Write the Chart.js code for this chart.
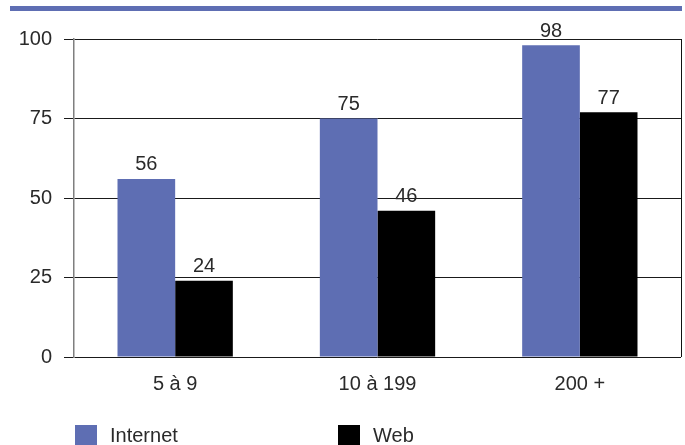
<!DOCTYPE html>
<html>
<head>
<meta charset="utf-8">
<script src="https://cdn.jsdelivr.net/npm/chart.js@4.4.1/dist/chart.umd.min.js"></script>
<style>
  html, body { margin: 0; padding: 0; background: #fff; }
  #wrap { position: relative; width: 685px; height: 445px; overflow: hidden; }
  #topbar { position: absolute; left: 10px; top: 6px; width: 672px; height: 5px; background: #5e6eb3; }
  #chartbox { position: absolute; left: 0; top: 0; width: 685px; height: 445px; }
  #legend { position: absolute; left: 75px; top: 424px; display: flex; font-family: "Liberation Sans", Arial, sans-serif; font-size: 20px; color: #2a2a2a; }
  .item { display: flex; align-items: flex-start; width: 263px; }
  .box { width: 22px; height: 20px; margin-top: 1px; margin-right: 13px; }
</style>
</head>
<body>
<div id="wrap">
  <div id="chartbox"><canvas id="c"></canvas></div>
  <div id="topbar"></div>
  <div id="legend"></div>
</div>
<script>
const categories = ["5 à 9", "10 à 199", "200 +"];
const internetValues = [56, 75, 98];
const webValues = [24, 46, 77];
const yTicks = [0, 25, 50, 75, 100];
const seriesNames = ["Internet", "Web"];
const seriesColors = ["#5e6eb3", "#000000"];

const FONT = '"Liberation Sans", Arial, sans-serif';
const TEXT = '#2a2a2a';

const valueLabels = {
  id: 'valueLabels',
  afterDatasetsDraw(chart) {
    const ctx = chart.ctx;
    ctx.save();
    ctx.font = '20px ' + FONT;
    ctx.fillStyle = TEXT;
    ctx.textAlign = 'center';
    ctx.textBaseline = 'bottom';
    chart.data.datasets.forEach((ds, i) => {
      const meta = chart.getDatasetMeta(i);
      meta.data.forEach((bar, j) => {
        ctx.fillText(String(ds.data[j]), bar.x, bar.y - 4);
      });
    });
    ctx.restore();
  }
};

const rightBorder = {
  id: 'rightBorder',
  afterDraw(chart) {
    const a = chart.chartArea, ctx = chart.ctx;
    ctx.save();
    ctx.strokeStyle = '#111';
    ctx.lineWidth = 1;
    ctx.beginPath();
    ctx.moveTo(Math.round(a.right) + 0.5, a.top);
    ctx.lineTo(Math.round(a.right) + 0.5, a.bottom);
    ctx.stroke();
    ctx.restore();
  }
};

const chart = new Chart(document.getElementById('c'), {
  type: 'bar',
  data: {
    labels: categories,
    datasets: [
      { label: seriesNames[0], data: internetValues, backgroundColor: seriesColors[0], borderWidth: 0 },
      { label: seriesNames[1], data: webValues, backgroundColor: seriesColors[1], borderWidth: 0 }
    ]
  },
  options: {
    responsive: true,
    maintainAspectRatio: false,
    animation: false,
    layout: { padding: { left: 0, top: 39, right: 4, bottom: 48 } },
    plugins: { legend: { display: false }, tooltip: { enabled: false } },
    datasets: { bar: { categoryPercentage: 0.57, barPercentage: 1.0 } },
    scales: {
      x: {
        grid: { display: false },
        border: { display: false },
        ticks: { color: TEXT, font: { size: 20, family: FONT }, padding: 7 },
        afterFit(s) { s.height = 40; }
      },
      y: {
        min: 0, max: 100,
        afterBuildTicks(s) { s.ticks = yTicks.map(v => ({ value: v })); },
        grid: { color: '#1a1a1a', lineWidth: 1, tickLength: 10, drawTicks: true },
        border: { color: '#7f7f7f', width: 1.5 },
        ticks: { color: TEXT, font: { size: 20, family: FONT }, padding: 12 },
        afterFit(s) { s.width = 74; }
      }
    }
  },
  plugins: [valueLabels, rightBorder]
});

const legend = document.getElementById('legend');
chart.data.datasets.forEach(ds => {
  const item = document.createElement('div');
  item.className = 'item';
  const box = document.createElement('div');
  box.className = 'box';
  box.style.background = ds.backgroundColor;
  const txt = document.createElement('span');
  txt.textContent = ds.label;
  item.appendChild(box);
  item.appendChild(txt);
  legend.appendChild(item);
});
</script>
</body>
</html>
